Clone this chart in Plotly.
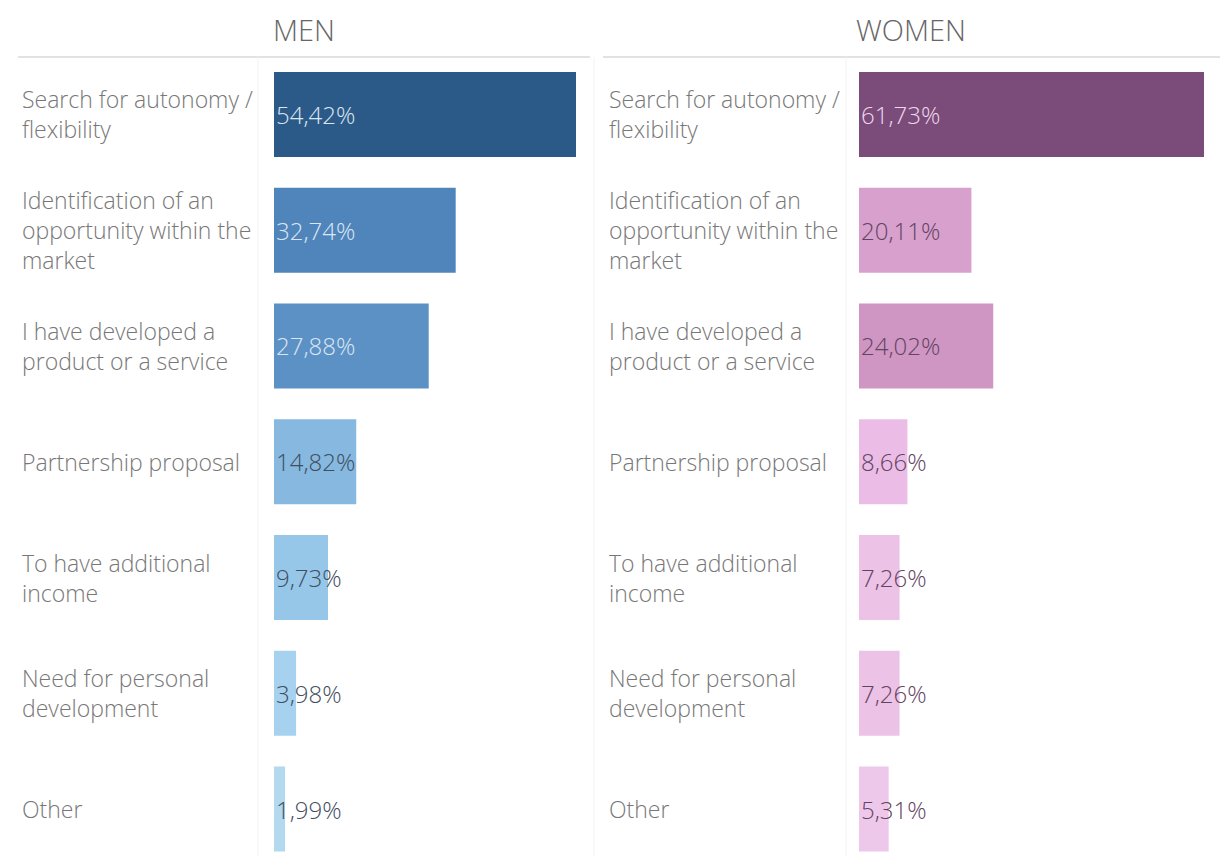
import plotly.graph_objects as go

categories = [
    "Search for autonomy /<br>flexibility",
    "Identification of an<br>opportunity within the<br>market",
    "I have developed a<br>product or a service",
    "Partnership proposal",
    "To have additional<br>income",
    "Need for personal<br>development",
    "Other",
]
men_values = [54.42, 32.74, 27.88, 14.82, 9.73, 3.98, 1.99]
women_values = [61.73, 20.11, 24.02, 8.66, 7.26, 7.26, 5.31]
men_colors = ["#2c5a88", "#4f85bb", "#5b91c5", "#86b8e0", "#96c6e8", "#a6d2ef", "#b3d9ee"]
women_colors = ["#7b4b7a", "#d7a0cd", "#cf96c3", "#ebbde6", "#ecc2e6", "#ecc2e6", "#eec8ea"]
men_text_colors = ["#dbe6f2", "#dbe6f2", "#dbe6f2", "#3f4e60", "#3f4e60", "#3f4e60", "#3f4e60"]
women_text_colors = ["#ecd8ec", "#624462", "#624462", "#624462", "#624462", "#624462", "#624462"]
panel_titles = ["MEN", "WOMEN"]

# page body has an 8px margin; figure fills the rest of the 1228x864 window
OFF = 8
W, H = 1228 - 2 * OFF, 864 - 2 * OFF
FONT = "Open Sans"
LABEL_COLOR = "#777777"
WEIGHT = 300


def px(x):
    return (x - OFF) / W


def py(y):
    return 1 - (y - OFF) / H


ids = list(range(len(categories)))

# row layout (page pixels): first row centre, row pitch, plot top/bottom
ROW0, PITCH, TOP, BOTTOM = 114.5, 115.75, 57, 864 - OFF
yrange = [(len(ids) - 1) + (BOTTOM - (ROW0 + (len(ids) - 1) * PITCH)) / PITCH, -(ROW0 - TOP) / PITCH]
bar_w = 85 / PITCH

fig = go.Figure()
fig.add_trace(go.Bar(y=ids, x=men_values, orientation="h", marker=dict(color=men_colors, line=dict(width=0)),
                     width=bar_w, xaxis="x", yaxis="y", hoverinfo="skip", showlegend=False))
fig.add_trace(go.Bar(y=ids, x=women_values, orientation="h", marker=dict(color=women_colors, line=dict(width=0)),
                     width=bar_w, xaxis="x2", yaxis="y2", hoverinfo="skip", showlegend=False))

men_dom = [px(274), px(590)]
women_dom = [px(859), px(1220)]
men_range = [0, 316 * 54.42 / 302]
women_range = [0, 361 * 61.73 / 345]

axis_common = dict(showgrid=False, zeroline=False, showticklabels=False, ticks="", showline=False, fixedrange=True)
fig.update_layout(
    width=W, height=H, margin=dict(l=0, r=0, t=0, b=0),
    paper_bgcolor="white", plot_bgcolor="rgba(0,0,0,0)",
    xaxis=dict(domain=men_dom, range=men_range, anchor="y", **axis_common),
    xaxis2=dict(domain=women_dom, range=women_range, anchor="y2", **axis_common),
    yaxis=dict(domain=[0, py(TOP)], range=yrange, anchor="x", **axis_common),
    yaxis2=dict(domain=[0, py(TOP)], range=yrange, anchor="x2", **axis_common),
    font=dict(family=FONT),
)

annotations = []
for title, xc in zip(panel_titles, [304, 911]):
    annotations.append(dict(text=title, x=px(xc), y=py(29), xref="paper", yref="paper",
                            showarrow=False, xanchor="center", yanchor="middle", borderpad=0,
                            font=dict(family=FONT, size=29, color="#666666", weight=WEIGHT)))

line_gap = 30
for yref, xref, label_x, vals, tcols in [("y", "x", 20, men_values, men_text_colors),
                                         ("y2", "x2", 607, women_values, women_text_colors)]:
    for i, cat in enumerate(categories):
        lines = cat.split("<br>")
        n = len(lines)
        for j, ln in enumerate(lines):
            off = (j - (n - 1) / 2) * line_gap
            annotations.append(dict(text=ln, x=px(label_x), y=i, xref="paper", yref=yref,
                                    showarrow=False, xanchor="left", yanchor="middle", yshift=-off,
                                    font=dict(family=FONT, size=23, color=LABEL_COLOR, weight=WEIGHT)))
        annotations.append(dict(text=f"{vals[i]:.2f}".replace(".", ",") + "%", x=0, y=i, xref=xref, yref=yref,
                                showarrow=False, xanchor="left", yanchor="middle", xshift=0,
                                font=dict(family=FONT, size=24, color=tcols[i], weight=WEIGHT)))
fig.update_layout(annotations=annotations)

shapes = []
for x0, x1 in [(18, 590), (603, 1220)]:
    shapes.append(dict(type="line", xref="paper", yref="paper", x0=px(x0), x1=px(x1),
                       y0=py(57), y1=py(57), line=dict(color="#d9d9d9", width=1.5)))
    shapes.append(dict(type="line", xref="paper", yref="paper", x0=px(x0), x1=px(x1),
                       y0=py(858), y1=py(858), line=dict(color="#eeeeee", width=1.5)))
for xv in [258, 594, 846, 1222]:
    shapes.append(dict(type="line", xref="paper", yref="paper", x0=px(xv), x1=px(xv),
                       y0=py(856), y1=py(57), line=dict(color="#f3f3f3", width=1)))
fig.update_layout(shapes=shapes)

fig.write_html("out.html")
